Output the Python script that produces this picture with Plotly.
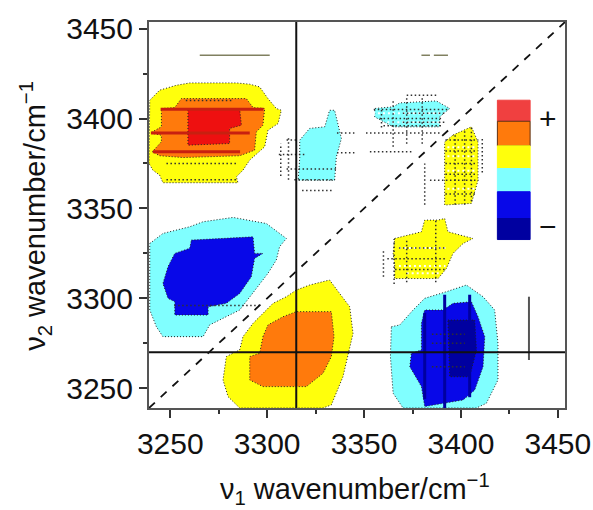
import plotly.graph_objects as go

RANGE = [3239, 3453.7]
TICKS = [3250, 3300, 3350, 3400, 3450]
MINOR_TICKS = [3275, 3325, 3375, 3425]
CROSS_X = 3315
CROSS_Y = 3270

YELLOW, ORANGE, RED, CYAN, BLUE, NAVY = "#ffff0c", "#ff7a0c", "#ee1010", "#80ffff", "#0808e8", "#0000a0"
DARKRED = "#c82010"

# Contour outlines: (nu1, nu2), drawn back to front
YELLOW_TL = [(3239,3375),(3239.4,3410.2),(3244.5,3415.8),(3253.1,3418.5),(3260,3419.8),(3284.1,3419.8),(3291,3419.1),(3296.1,3417.6),(3300.4,3411.1),(3304.7,3405.6),(3307.3,3404.6),(3305.6,3397.2),(3300.4,3393.5),(3298.7,3384.3),(3291,3376.9),(3287.5,3371.3),(3284.1,3367.6),(3284.9,3364.3),(3246.2,3364.3),(3244.5,3368.5),(3241,3371.3)]
ORANGE_TL = [(3245.4,3405.6),(3252.3,3406.1),(3255.7,3411.1),(3289.2,3411.1),(3292.7,3406.1),(3298.7,3405.6),(3297.8,3396.3),(3294.4,3392.6),(3293.5,3382.4),(3285.8,3379.3),(3256.6,3378.3),(3244.5,3379.3),(3240.7,3381.5),(3245.4,3387.1),(3245.4,3390.7),(3239.7,3392),(3245.4,3395.4)]
RED_TL = [(3259.1,3405.2),(3285.8,3405.2),(3286.7,3396.3),(3280.6,3394.5),(3280.6,3386.1),(3259.1,3385.2)]
CYAN_TM = [(3316.8,3388),(3321.9,3394.5),(3329.7,3395.4),(3332.2,3404.6),(3334.8,3404.6),(3336.5,3397.2),(3338.3,3388.9),(3335.7,3378.7),(3334.8,3365.7),(3316,3365.7),(3316.8,3378)]
CYAN_L = [(3239.4,3330.5),(3246.2,3336.1),(3260,3339.8),(3266.9,3342.6),(3282.4,3345),(3299.6,3341.6),(3309.9,3333.3),(3306.4,3328.7),(3304.7,3321.3),(3300.4,3313.9),(3294.4,3305.5),(3285.8,3293.5),(3277.2,3288.9),(3270.3,3285.2),(3266.9,3278.7),(3246.2,3278.7),(3242.8,3284.2),(3239.4,3293.5)]
BLUE_L = [(3260.9,3332.4),(3292.7,3334.2),(3293.5,3325),(3297.8,3325),(3293.5,3322.2),(3291.8,3312),(3285.8,3302.7),(3278.9,3297.2),(3269.5,3295.3),(3269.5,3290.7),(3252.3,3290.7),(3252.3,3298.1),(3248.8,3300),(3246.2,3308.3),(3248.8,3317.6),(3252.3,3325),(3260,3327.8)]
YELLOW_B = [(3285.8,3271.3),(3287.5,3278.7),(3292.7,3286.1),(3297.8,3291.6),(3303,3297.2),(3309.9,3300.9),(3315,3304.6),(3321.9,3307.4),(3332.2,3310.2),(3337.4,3302.7),(3342.6,3295.3),(3344.3,3280.5),(3341.7,3267.6),(3339.1,3256.4),(3333.1,3240.7),(3328.8,3239),(3285.8,3239),(3279.8,3245.3),(3277.2,3254.6),(3278.9,3267.6)]
ORANGE_B = [(3297.8,3278.7),(3300.4,3285.2),(3308.2,3289.8),(3315,3292.6),(3333.1,3292.6),(3334.5,3278.7),(3333.1,3267.6),(3328.8,3258.3),(3320.2,3250.9),(3297.8,3250.9),(3291,3254.6),(3291,3267.6),(3296.1,3269.4)]
YELLOW_M = [(3365.8,3333.3),(3379.6,3337),(3381.3,3343.5),(3388.2,3343.5),(3391.6,3344.4),(3393.3,3337),(3406.2,3333.3),(3401.1,3330.5),(3395.9,3325),(3392.5,3316.6),(3388.2,3311),(3365.8,3311),(3365.8,3318.5),(3365,3325)]
CYAN_BR = [(3364.1,3284.2),(3368.4,3285.2),(3375.3,3293.5),(3381.3,3300),(3392.5,3303.7),(3402.8,3307.4),(3411.4,3300.9),(3417.4,3293.5),(3419.1,3275),(3419.1,3254.6),(3413.1,3241.6),(3408,3239),(3370.1,3239),(3365,3247.2),(3363.6,3267.6)]
BLUE_BR = [(3379.6,3286.1),(3381.3,3293.5),(3390.8,3293.5),(3395.9,3297.2),(3405.4,3298.1),(3408.8,3289.8),(3412.3,3278.7),(3411.4,3262),(3407.1,3249),(3401.1,3243.5),(3381.3,3239.8),(3379.6,3250.9),(3373.6,3262),(3374.4,3269.4),(3379.6,3271.3)]
NAVY_BR = [(3393.3,3287.9),(3407.1,3287.9),(3408,3271.3),(3404.5,3256.4),(3394.2,3256.4)]
CYAN_TR = [(3365,3406.5),(3368.4,3408.7),(3387.3,3409.8),(3394.2,3405.6),(3389,3400.9),(3389,3395.4),(3365,3395.4),(3355.5,3400.9),(3355.5,3405.6)]
YELLOW_R = [(3395.9,3390.8),(3401.9,3393.5),(3405.4,3395.4),(3408.8,3387),(3408.8,3365.7),(3405.4,3352.8),(3391.6,3351.9),(3391.6,3375),(3391.6,3387)]

# Narrow bands: (x0, x1, y0, y1)
RED_BANDS = [(3240,3291,3392,3392),(3241,3286,3381.5,3381.5),(3245,3298,3405.2,3405.2)]
NAVY_BANDS = [(3381.3,3381.3,3244,3292),(3391.6,3391.6,3239,3302),(3404.5,3404.5,3245,3302)]
TOP_TRACES = [(3265.2,3301.3,3435.2,3435.2),(3379.6,3384,3435.2,3435.2),(3386,3393.3,3435.2,3435.2)]
RIGHT_TRACE = [(3435.1,3435.1,3265.7,3300.9)]

# Dotted speckle rows and columns: (x0, x1, y0, y1)
SPECKLE_DARK = [
    (3351,3390,3392,3392),(3353,3375,3381.5,3381.5),(3365,3365,3384.3,3410),(3355,3394,3405,3405),
    (3358,3390,3400,3400),(3360,3390,3396,3396),(3372,3388,3413,3413),(3359,3359,3395,3406),
    (3384,3409,3365.7,3365.7),(3381.3,3381.3,3352,3375),(3401.9,3401.9,3352,3394),(3405.4,3405.4,3354,3395),
    (3392,3409,3388,3388),(3392,3408,3375,3375),(3411,3411,3370,3390),(3392,3408,3358,3358),
    (3360,3360,3312,3327),(3365.5,3365.5,3308,3333),(3362,3392,3322,3322),(3366,3392,3316,3316),
    (3310,3336,3372,3372),(3306,3320,3380,3380),(3318,3334,3360,3360),(3310,3316,3388,3388),(3336,3345,3392,3392),(3336,3345,3381,3381),
    (3314,3335,3366,3366),(3248,3284,3366,3366),(3307,3307,3368,3386),(3311,3311,3366,3390),
    (3248,3284,3375,3375),(3258,3282,3410,3410),(3252,3296,3296,3296),(3385,3402,3262,3262),(3385,3402,3275,3275),(3385,3402,3280,3280),
    (3370,3392,3403,3403),(3370,3392,3398,3398),(3372,3372,3386,3412),(3380,3380,3386,3412),(3397,3397,3352,3392),(3392,3408,3382,3382),(3392,3408,3369,3369),
    (3368,3392,3328,3328),(3372,3372,3309,3332),(3387,3387,3309,3344),
]
SPECKLE_WHITE = [
    (3352,3392,3403,3403),(3362,3390,3398,3398),(3393,3408,3384,3384),(3393,3408,3379,3379),
    (3393,3408,3371,3371),(3393,3408,3361,3361),(3368,3392,3328,3328),(3368,3392,3318,3318),(3372,3390,3314,3314),
]


def poly(points, color):
    return go.Scatter(
        x=[p[0] for p in points] + [points[0][0]],
        y=[p[1] for p in points] + [points[0][1]],
        mode="lines", fill="toself", fillcolor=color,
        line=dict(color="#202020", width=1, dash="1px,2px"),
        hoverinfo="skip", showlegend=False,
    )


def segs(items, color, width, dash="solid"):
    xs, ys = [], []
    for x0, x1, y0, y1 in items:
        xs += [x0, x1, None]
        ys += [y0, y1, None]
    return go.Scatter(x=xs, y=ys, mode="lines", line=dict(color=color, width=width, dash=dash),
                      hoverinfo="skip", showlegend=False)


fig = go.Figure()
for pts, col in [(YELLOW_TL, YELLOW), (ORANGE_TL, ORANGE), (RED_TL, RED), (CYAN_TM, CYAN), (CYAN_L, CYAN),
                 (BLUE_L, BLUE), (YELLOW_B, YELLOW), (ORANGE_B, ORANGE), (YELLOW_M, YELLOW), (CYAN_BR, CYAN),
                 (BLUE_BR, BLUE), (NAVY_BR, NAVY), (CYAN_TR, CYAN), (YELLOW_R, YELLOW)]:
    fig.add_trace(poly(pts, col))

fig.add_trace(segs(RED_BANDS, DARKRED, 3))
fig.add_trace(segs(NAVY_BANDS, NAVY, 3))
fig.add_trace(segs(SPECKLE_WHITE, "#ffffff", 2, "2px,3px"))
fig.add_trace(segs(SPECKLE_DARK, "#303030", 1.5, "1.5px,2.5px"))
fig.add_trace(segs(TOP_TRACES, "#808060", 1.5))
fig.add_trace(segs(RIGHT_TRACE, "#555555", 2))
fig.add_trace(segs([(RANGE[0], RANGE[1], RANGE[0], RANGE[1])], "#111111", 1.8, "8px,8px"))
fig.add_trace(segs([(CROSS_X, CROSS_X, RANGE[0], RANGE[1])], "#111111", 2))
fig.add_trace(segs([(RANGE[0], RANGE[1], CROSS_Y, CROSS_Y)], "#111111", 1.8))

# Colour key
KEY_X = [3418.8, 3435.7]
KEY_EDGES = [3410.2, 3398.5, 3384.8, 3372.2, 3359.3, 3344.4, 3332.7]
KEY_COLORS = ["#f04040", ORANGE, YELLOW, CYAN, BLUE, NAVY]
for i, col in enumerate(KEY_COLORS):
    fig.add_trace(go.Scatter(
        x=[KEY_X[0], KEY_X[1], KEY_X[1], KEY_X[0], KEY_X[0]],
        y=[KEY_EDGES[i], KEY_EDGES[i], KEY_EDGES[i + 1], KEY_EDGES[i + 1], KEY_EDGES[i]],
        mode="lines", fill="toself", fillcolor=col,
        line=dict(color="#603010" if col == ORANGE else col, width=1),
        hoverinfo="skip", showlegend=False))

FONT = "Liberation Sans"
axis = dict(
    range=RANGE, tickmode="array", tickvals=TICKS, ticktext=[str(t) for t in TICKS],
    ticks="outside", ticklen=8, tickwidth=1.5, tickcolor="#333333",
    minor=dict(tickmode="array", tickvals=MINOR_TICKS, ticks="outside", ticklen=4, tickwidth=1.5, tickcolor="#333333"),
    showline=True, linecolor="#555555", linewidth=2, mirror=True, automargin=False,
    showgrid=False, zeroline=False, tickfont=dict(family=FONT, size=30, color="#111111"),
)
FW, FH = 593, 510
L, T, PW, PH = 149, 22, 416, 386.5
fig.update_layout(
    width=FW, height=FH, margin=dict(l=L, r=FW - L - PW, t=T, b=FH - T - PH, pad=0),
    autosize=False,
    paper_bgcolor="white", plot_bgcolor="white",
    xaxis=axis, yaxis=axis,
    annotations=[
        dict(x=(355 - L) / PW, y=(T + PH - 490) / PH, xref="paper", yref="paper", showarrow=False,
             xanchor="center", yanchor="middle",
             text="ν<sub>1</sub> wavenumber/cm<sup>−1</sup>", font=dict(family=FONT, size=29, color="#111111")),
        dict(x=(35 - L) / PW, y=(T + PH - 216) / PH, xref="paper", yref="paper", showarrow=False, textangle=-90,
             xanchor="center", yanchor="middle",
             text="ν<sub>2</sub> wavenumber/cm<sup>−1</sup>", font=dict(family=FONT, size=29, color="#111111")),
        dict(x=3444.7, y=3400.2, xref="x", yref="y", showarrow=False, text="+", font=dict(family=FONT, size=30, color="#111111")),
        dict(x=3444.7, y=3340.2, xref="x", yref="y", showarrow=False, text="−", font=dict(family=FONT, size=30, color="#111111")),
    ],
)
fig.write_html("out.html", config={"displayModeBar": False},
               post_script="document.documentElement.style.overflow='hidden';document.body.style.margin='0';")
